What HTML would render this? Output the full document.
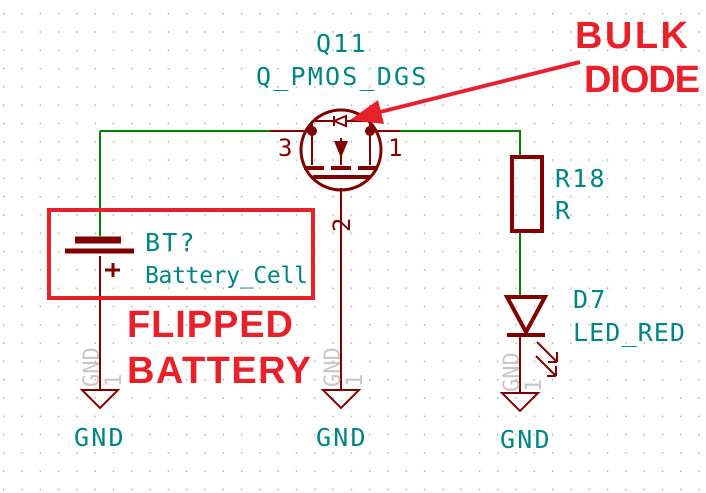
<!DOCTYPE html>
<html><head><style>body{margin:0;background:#fff}svg{display:block}</style></head><body>
<svg width="706" height="493" xmlns="http://www.w3.org/2000/svg">
<defs><pattern id="g" x="3" y="13" width="18.3" height="18.3" patternUnits="userSpaceOnUse"><rect width="1.4" height="1.4" fill="#aaa"/></pattern></defs>
<rect width="706" height="493" fill="url(#g)"/>
<g font-family="'DejaVu Sans Mono','Liberation Mono',monospace" font-size="25" letter-spacing="2.2" fill="#008484">
<text x="316" y="52">Q11</text><text x="256" y="85">Q_PMOS_DGS</text>
<text x="145" y="251">BT?</text><text x="145" y="283" font-size="23" letter-spacing="-0.3">Battery_Cell</text>
<text x="555" y="187">R18</text><text x="555" y="219">R</text>
<text x="573" y="308">D7</text><text x="573" y="341" letter-spacing="1.1">LED_RED</text>
<text x="74" y="446">GND</text><text x="316" y="446">GND</text><text x="500" y="448">GND</text>
</g>
<g fill="none" stroke-width="2">
<path d="M100 131H300M382 131H520V155M100 131V236M520 232V297" stroke="#008000"/>
<path d="M100 256V390M341 188V390M520 335V393" stroke="#800000"/>
</g>
<g stroke="#800000" fill="none">
<circle cx="341" cy="150" r="40" stroke-width="3"/>
<path d="M270 131H312M370 131H400M312 131V165M370 131V165M341 138V165" stroke-width="2"/>
<path d="M312 121H370V131M312 121V131" stroke-width="2"/>
<path d="M304 168H324M331 168H351M358 168H378M313 177H370" stroke-width="4"/>
<path d="M65 251H134" stroke-width="5"/><path d="M75 240H121" stroke-width="7"/>
<path d="M105 270H120M113 263V277" stroke-width="3"/>
<rect x="512" y="157" width="30" height="74" stroke-width="4"/>
<path d="M507 297H545L526 332Z M507 335H545" stroke-width="4"/>
<path d="M537 342L557 362M536 356L556 376M557 362V352M557 362H548M556 376V366M556 376H547" stroke-width="2"/>
<path d="M82 390H118L100 408Z M323 390H359L341 408Z M502 393H538L520 411Z" stroke-width="2"/>
</g>
<path d="M334 141H348L341 158Z" fill="#800000"/>
<path d="M346 116L334 121L346 126Z M334 116V126" stroke="#800000" stroke-width="2" fill="#fff"/>
<circle cx="312" cy="131" r="5" fill="#800000"/><circle cx="370" cy="131" r="5" fill="#800000"/>
<g font-family="'DejaVu Sans Mono',monospace" font-size="24" fill="#800000">
<text x="278" y="156">3</text><text x="388" y="156">1</text>
<text transform="translate(350,232) rotate(-90)">2</text>
</g>
<g font-family="'DejaVu Sans Mono',monospace" font-size="22" fill="#c8c8c8">
<text transform="translate(99,387) rotate(-90)">GND</text><text transform="translate(121,387) rotate(-90)">1</text>
<text transform="translate(340,387) rotate(-90)">GND</text><text transform="translate(362,387) rotate(-90)">1</text>
<text transform="translate(519,392) rotate(-90)">GND</text><text transform="translate(541,392) rotate(-90)">1</text>
</g>
<rect x="49" y="210" width="264" height="88" fill="none" stroke="#e8202a" stroke-width="4"/>
<path d="M580 62L360 117" stroke="#e8202a" stroke-width="4"/>
<path d="M350 120L378 100L384 124Z" fill="#e8202a"/>
<g font-family="'Liberation Sans',sans-serif" font-weight="bold" font-size="38" fill="#e8202a" lengthAdjust="spacingAndGlyphs">
<text x="127" y="337" textLength="166">FLIPPED</text><text x="127" y="383" textLength="184">BATTERY</text>
<text x="575" y="48" textLength="113">BULK</text><text x="584" y="92" textLength="116">DIODE</text>
</g>
</svg>
</body></html>
